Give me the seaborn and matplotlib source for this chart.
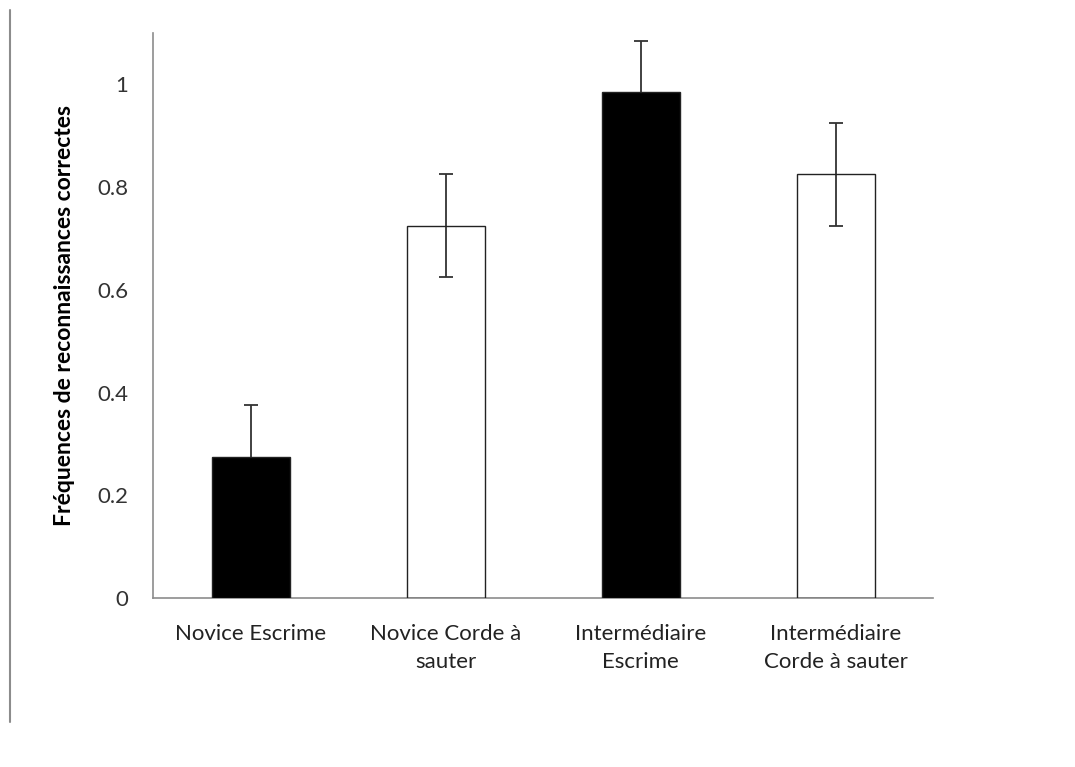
"""
Recognition frequencies by group and task, bar chart with error bars.
"""

import matplotlib
matplotlib.use("Agg")
import matplotlib.pyplot as plt
import seaborn as sns
import pandas as pd
from matplotlib.lines import Line2D

sns.set_theme(style="white")
plt.rcParams['font.family'] = ['Lato', 'DejaVu Sans']

# Data
categories = ["Novice Escrime", "Novice Corde à\nsauter",
              "Intermédiaire\nEscrime", "Intermédiaire\nCorde à sauter"]
frequencies = [0.275, 0.725, 0.985, 0.825]
errors = [0.1, 0.1, 0.1, 0.1]
bar_colors = ["black", "white", "black", "white"]
y_ticks = [0, 0.2, 0.4, 0.6, 0.8, 1]
y_tick_labels = ["0", "0.2", "0.4", "0.6", "0.8", "1"]

df = pd.DataFrame({"Condition": categories, "Frequence": frequencies})

fig = plt.figure(figsize=(10.75, 7.67), dpi=100)
ax = fig.add_axes([153 / 1075, 1 - 598 / 767, 780 / 1075, 565 / 767])

sns.barplot(
    data=df,
    x="Condition",
    y="Frequence",
    hue="Condition",
    palette=bar_colors,
    edgecolor="#222222",
    linewidth=1.0,
    width=0.4,
    legend=False,
    ax=ax,
    zorder=3,
)

# white bars see-through so the lower whisker shows, black bars hide it
for patch, col in zip(ax.patches, bar_colors):
    if col == "white":
        patch.set_facecolor((1, 1, 1, 0))

ax.errorbar(
    ax.get_xticks(),
    frequencies,
    yerr=errors,
    fmt="none",
    ecolor="#333333",
    elinewidth=1.3,
    capsize=5,
    capthick=1.3,
    zorder=2,
)

ax.set_ylim(0, 1.1)
ax.set_xlim(-0.5, 3.5)
ax.set_yticks(y_ticks)
ax.set_yticklabels(y_tick_labels)
ax.tick_params(axis="y", length=0, pad=18, labelsize=16, labelcolor="#333333")
ax.tick_params(axis="x", length=0, pad=19, labelsize=16, labelcolor="#222222")
for lbl in ax.get_xticklabels():
    lbl.set_linespacing(1.45)
ax.set_xlabel("")
ax.set_ylabel("Fréquences de reconnaissances correctes",
              fontsize=16.5, fontweight="bold", color="black", labelpad=16)

for side in ["top", "right"]:
    ax.spines[side].set_visible(False)
for side in ["left", "bottom"]:
    ax.spines[side].set_color("#8c8c8c")
    ax.spines[side].set_linewidth(1.2)

# thin border line on the left edge of the picture
fig.add_artist(Line2D([10 / 1075, 10 / 1075], [1 - 10 / 767, 1 - 722 / 767],
                      color="#8c8c8c", linewidth=1.5))

plt.savefig("out.png", dpi=100)
plt.close()
